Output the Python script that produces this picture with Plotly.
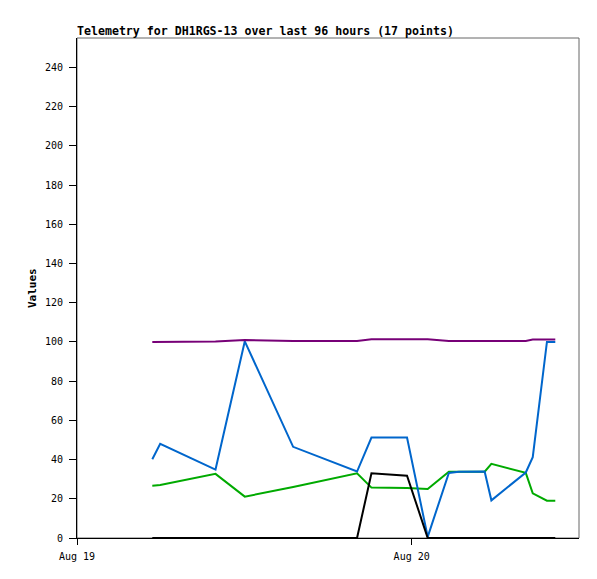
import plotly.graph_objects as go

times = [
    "2023-08-19 05:24", "2023-08-19 05:58", "2023-08-19 09:56", "2023-08-19 12:02",
    "2023-08-19 15:30", "2023-08-19 20:05", "2023-08-19 21:07", "2023-08-19 23:40",
    "2023-08-20 01:09", "2023-08-20 02:40", "2023-08-20 03:23", "2023-08-20 05:14",
    "2023-08-20 05:43", "2023-08-20 08:11", "2023-08-20 08:41", "2023-08-20 09:42",
    "2023-08-20 10:18",
]
green = [26.7, 27.0, 32.7, 21.1, 26.0, 33.0, 25.7, 25.5, 25.0, 33.8, 33.8, 33.8, 37.8, 33.2, 22.8, 19.0, 19.0]
blue = [40.2, 48.0, 34.9, 100.3, 46.5, 33.9, 51.2, 51.2, 0.6, 33.2, 33.8, 33.9, 19.2, 33.4, 41.2, 100.0, 100.0]
black = [0, 0, 0, 0, 0, 0, 33.0, 31.8, 0, 0, 0, 0, 0, 0, 0, 0, 0]
purple = [100.0, 100.0, 100.2, 101.0, 100.5, 100.5, 101.3, 101.3, 101.3, 100.5, 100.5, 100.5, 100.5, 100.5, 101.2, 101.2, 101.2]

x_range = ["2023-08-19 00:00", "2023-08-20 12:00"]
x_tickvals = ["2023-08-19", "2023-08-20"]
x_ticktext = ["Aug 19", "Aug 20"]
y_tickvals = list(range(0, 241, 20))

MONO = "DejaVu Sans Mono"
W, H = 589, 571  # page body has an 8px margin

fig = go.Figure()
for vals, col in [(green, "#00aa00"), (blue, "#0066cc"), (black, "#000000"), (purple, "#770077")]:
    fig.add_trace(go.Scatter(x=times, y=vals, mode="lines",
                             line=dict(color=col, width=2), showlegend=False,
                             hoverinfo="skip"))

fig.update_layout(
    width=W, height=H,
    margin=dict(l=69, r=18, t=30, b=41, autoexpand=False),
    paper_bgcolor="white", plot_bgcolor="white",
    font=dict(family=MONO, size=10, color="black"),
    title=dict(text="<b>Telemetry for DH1RGS-13 over last 96 hours (17 points)</b>",
               x=0, xanchor="left", xref="paper",
               y=1 - 23/H, yanchor="middle", yref="container",
               font=dict(family=MONO, size=11.6, color="black")),
    shapes=[dict(type="rect", xref="paper", yref="paper", x0=0, x1=1, y0=0, y1=1,
                 line=dict(color="#666666", width=1), layer="below")],
    annotations=[dict(text="<b>Values</b>", textangle=-90, xref="paper", yref="paper",
                      x=(32 - 77) / 502, y=0.5, xanchor="center", yanchor="middle",
                      showarrow=False, font=dict(family=MONO, size=11, color="black"))],
)
fig.update_xaxes(type="date", range=x_range, tickvals=x_tickvals, ticktext=x_ticktext,
                 showgrid=False, zeroline=False, showline=True, linecolor="black",
                 linewidth=1, ticks="outside", ticklen=6, tickcolor="black",
                 ticklabelstandoff=3, tickfont=dict(family=MONO, size=10))
fig.update_yaxes(range=[0, 255], tickvals=y_tickvals, showgrid=False, zeroline=False,
                 showline=True, linecolor="black", linewidth=1, ticks="outside",
                 ticklen=7, tickcolor="black", ticklabelstandoff=4,
                 tickfont=dict(family=MONO, size=10))

fig.write_html("out.html")
